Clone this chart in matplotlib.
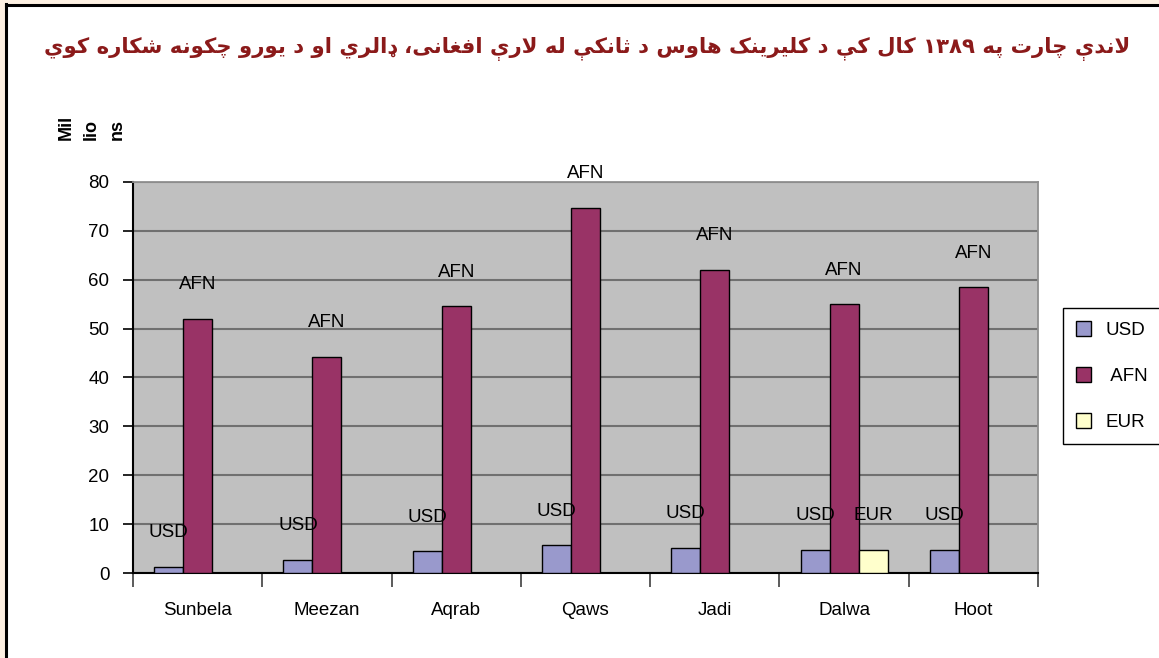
import matplotlib
matplotlib.use("Agg")
import matplotlib.pyplot as plt
from matplotlib.patches import Patch, Rectangle
import numpy as np

# ---------------- data ----------------
categories = ["Sunbela", "Meezan", "Aqrab", "Qaws", "Jadi", "Dalwa", "Hoot"]
usd = [1.3, 2.7, 4.4, 5.7, 5.2, 4.8, 4.8]
afn = [52.0, 44.2, 54.6, 74.7, 62.0, 55.0, 58.5]
eur = [None, None, None, None, None, 4.8, None]
series_names = ["USD", "AFN", "EUR"]
y_ticks = [0, 10, 20, 30, 40, 50, 60, 70, 80]
title_text = "لاندې چارت په ١٣٨٩ کال کې د کليرينک هاوس د څانګې له لارې افغانی، ډالري او د يورو چکونه ښکاره کوي"
ylabel_parts = ["Mil", "lio", "ns"]

# ---------------- minimal Arabic shaping (matplotlib has no shaper) ----------------
F = {  # isolated, final, initial, medial
    'ا': ('\uFE8D', '\uFE8E', None, None),
    'ب': ('\uFE8F', '\uFE90', '\uFE91', '\uFE92'),
    'ت': ('\uFE95', '\uFE96', '\uFE97', '\uFE98'),
    'ث': ('\uFE99', '\uFE9A', '\uFE9B', '\uFE9C'),
    'ج': ('\uFE9D', '\uFE9E', '\uFE9F', '\uFEA0'),
    'ح': ('\uFEA1', '\uFEA2', '\uFEA3', '\uFEA4'),
    'خ': ('\uFEA5', '\uFEA6', '\uFEA7', '\uFEA8'),
    'د': ('\uFEA9', '\uFEAA', None, None),
    'ر': ('\uFEAD', '\uFEAE', None, None),
    'ز': ('\uFEAF', '\uFEB0', None, None),
    'س': ('\uFEB1', '\uFEB2', '\uFEB3', '\uFEB4'),
    'ش': ('\uFEB5', '\uFEB6', '\uFEB7', '\uFEB8'),
    'غ': ('\uFECD', '\uFECE', '\uFECF', '\uFED0'),
    'ف': ('\uFED1', '\uFED2', '\uFED3', '\uFED4'),
    'ل': ('\uFEDD', '\uFEDE', '\uFEDF', '\uFEE0'),
    'م': ('\uFEE1', '\uFEE2', '\uFEE3', '\uFEE4'),
    'ن': ('\uFEE5', '\uFEE6', '\uFEE7', '\uFEE8'),
    'ه': ('\uFEE9', '\uFEEA', '\uFEEB', '\uFEEC'),
    'و': ('\uFEED', '\uFEEE', None, None),
    'ي': ('\uFEF1', '\uFEF2', '\uFEF3', '\uFEF4'),
    'پ': ('\uFB56', '\uFB57', '\uFB58', '\uFB59'),
    'چ': ('\uFB7A', '\uFB7B', '\uFB7C', '\uFB7D'),
    'ک': ('\uFB8E', '\uFB8F', '\uFB90', '\uFB91'),
    'ی': ('\uFBFC', '\uFBFD', '\uFBFE', '\uFBFF'),
    'ې': ('\uFBE4', '\uFBE5', '\uFBE6', '\uFBE7'),
}
# Pashto letters without presentation forms: use look-alike forms
F['ټ'] = F['ت']
F['څ'] = F['ث']
F['ګ'] = F['ک']
F['ښ'] = F['ش']
F['ړ'] = F['ر']
F['ډ'] = ('\u0689', F['د'][1], None, None)


def _dual(c):
    return c in F and F[c][2] is not None


def shape_word(word):
    if all(ch.isdigit() for ch in word):
        return word
    chars = list(word)
    res = []
    i = 0
    while i < len(chars):
        c = chars[i]
        prev_join = i > 0 and _dual(chars[i - 1]) and c in F
        if c == 'ل' and i + 1 < len(chars) and chars[i + 1] == 'ا':
            res.append('\uFEFC' if prev_join else '\uFEFB')
            i += 2
            continue
        if c in F:
            next_join = i + 1 < len(chars) and _dual(c) and chars[i + 1] in F
            iso, fin, ini, med = F[c]
            if prev_join and next_join:
                g = med
            elif prev_join:
                g = fin
            elif next_join:
                g = ini
            else:
                g = iso
            res.append(g)
        else:
            res.append(c)
        i += 1
    return ''.join(reversed(res))


def shape_rtl(text):
    return ' '.join(shape_word(w) for w in reversed(text.split(' ')))


# ---------------- figure ----------------
W, H = 1159, 658
fig = plt.figure(figsize=(W / 100, H / 100), dpi=100)
fig.patch.set_facecolor('white')

# outer frame (beige strip + black line at top/left)
fig.patches.append(Rectangle((0, 0), 5 / W, 1, transform=fig.transFigure,
                             facecolor='#FDF0E2', edgecolor='none', zorder=0))
fig.patches.append(Rectangle((0, 1 - 4 / H), 1, 4 / H, transform=fig.transFigure,
                             facecolor='#FDF0E2', edgecolor='none', zorder=0))
fig.add_artist(plt.Line2D([6 / W, 6 / W], [0, 1 - 4 / H], transform=fig.transFigure,
                          color='black', lw=2.2))
fig.add_artist(plt.Line2D([6 / W, 1], [1 - 5 / H, 1 - 5 / H], transform=fig.transFigure,
                          color='black', lw=2.2))

left, right, top, bottom = 133, 1038, 182, 573
ax = fig.add_axes([left / W, 1 - bottom / H, (right - left) / W, (bottom - top) / H])
ax.set_facecolor('#C0C0C0')

x = np.arange(len(categories))
bw = 0.224
colors = ['#9999CC', '#993366', '#FFFFCC']
all_series = [usd, afn, eur]
for k, (vals, col, name) in enumerate(zip(all_series, colors, series_names)):
    off = (k - 1) * bw
    xs = [xi + off for xi, v in zip(x, vals) if v is not None]
    hs = [v for v in vals if v is not None]
    ax.bar(xs, hs, width=bw, color=col, edgecolor='black', linewidth=1.0, zorder=3)
    for xi, h in zip(xs, hs):
        ax.annotate(name, xy=(xi, h), xytext=(0, 24.5), textcoords='offset points',
                    ha='center', va='center', fontsize=13.5, family='Liberation Sans',
                    color='black', zorder=5)

ax.set_xlim(-0.5, len(categories) - 0.5)
ax.set_ylim(0, 80)
ax.set_yticks(y_ticks)
ax.set_yticklabels([str(t) for t in y_ticks], family='Liberation Sans', fontsize=13.5)
ax.yaxis.grid(True, color='#707070', linewidth=1.5, zorder=1)
ax.set_axisbelow(True)

ax.set_xticks(np.arange(-0.5, len(categories), 1.0))
ax.set_xticklabels([])
ax.set_xticks(x, minor=True)
ax.set_xticklabels(categories, minor=True, family='Liberation Sans', fontsize=13.5)
ax.tick_params(axis='x', which='major', length=10, width=1.2, color='#404040', direction='out')
ax.tick_params(axis='x', which='minor', length=0, pad=21)
ax.tick_params(axis='y', length=7, width=1.2, color='black', pad=10)

for side in ['top', 'right']:
    ax.spines[side].set_color('#909090')
    ax.spines[side].set_linewidth(1.3)
ax.spines['left'].set_color('black')
ax.spines['left'].set_linewidth(1.5)
ax.spines['bottom'].set_color('black')
ax.spines['bottom'].set_linewidth(1.5)

# legend
handles = [Patch(facecolor=c, edgecolor='black', linewidth=1.0) for c in colors]
leg = fig.legend(handles, [series_names[0], ' ' + series_names[1], series_names[2]],
                 loc='upper left', bbox_to_anchor=(1063 / W, 1 - 308 / H),
                 frameon=True, fancybox=False, edgecolor='black', framealpha=1,
                 prop={'family': 'Liberation Sans', 'size': 13.5},
                 handlelength=0.8, handleheight=0.85, labelspacing=1.5,
                 handletextpad=0.8, borderpad=0.68, borderaxespad=0)
leg.get_frame().set_linewidth(1.0)

# y axis label (broken into three rotated pieces)
for txt, xc in zip(ylabel_parts, [66, 91, 117.5]):
    fig.text(xc / W, 1 - 140 / H, txt, rotation=90, ha='center', va='bottom',
             fontsize=13, fontweight='bold', family='Liberation Sans')

# title (right aligned, RTL)
fig.text(1130 / W, 1 - 49 / H, shape_rtl(title_text), ha='right', va='center',
         fontsize=15.3, fontweight='bold', color='#8B1A1A', family=['DejaVu Sans'])

fig.savefig('out.png', dpi=100, facecolor=fig.get_facecolor())
